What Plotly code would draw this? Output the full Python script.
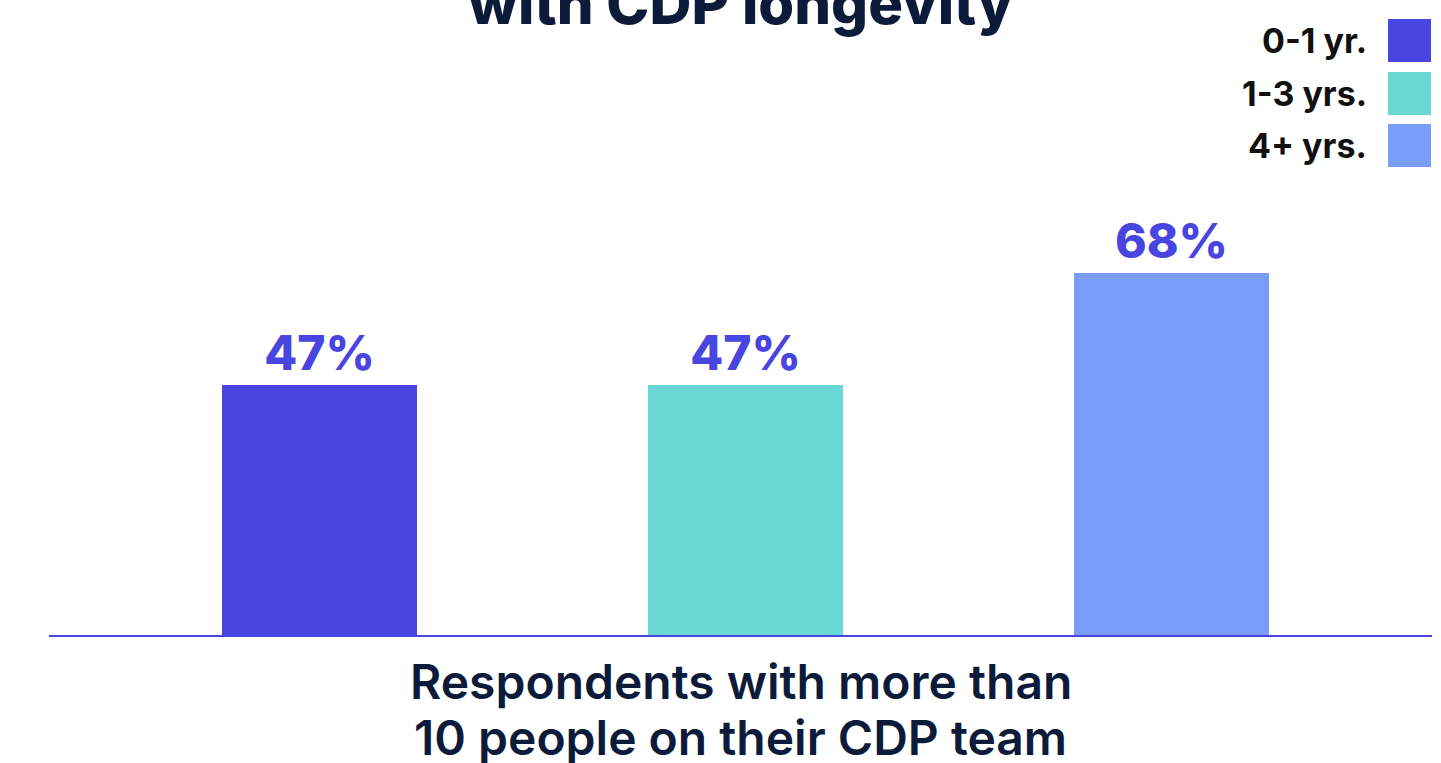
import plotly.graph_objects as go

# Data
categories = ["0-1 yr.", "1-3 yrs.", "4+ yrs."]
shares = [47, 47, 68]
bar_colors = ["#4845E0", "#69D8D4", "#799CF8"]

title_text = "with CDP longevity"
axis_title_lines = ["Respondents with more than", "10 people on their CDP team"]

# Canvas / plot-area geometry (pixels)
W, H = 1441, 763
L, R, T, B = 49, 9, 175, 128
PW, PH = W - L - R, H - T - B
FONT = "Inter, Open Sans, sans-serif"
NAVY = "#0D1B3A"
ACCENT = "#4845E0"


def paper_x(px):
    return (px - L) / PW


def paper_y(py):
    return (H - B - py) / PH


fig = go.Figure(
    go.Bar(
        x=categories,
        y=shares,
        marker=dict(color=bar_colors, line=dict(width=0)),
        width=0.458,
        text=[f"{v}%" for v in shares],
        texttemplate="%{text}",
        textposition="outside",
        textfont=dict(family=FONT, size=48, color=ACCENT, weight=800),
        cliponaxis=False,
        hoverinfo="skip",
    )
)

annotations = [
    dict(
        text=title_text, x=0.5, xref="paper", y=paper_y(40), yref="paper",
        xanchor="center", yanchor="bottom", showarrow=False,
        font=dict(family=FONT, size=58, color=NAVY, weight=800),
    ),
]

# Axis caption, one annotation per line for tighter leading
for line, top in zip(axis_title_lines, [650, 706]):
    annotations.append(dict(
        text=line, x=0.5, xref="paper", y=paper_y(top), yref="paper",
        xanchor="center", yanchor="top", showarrow=False,
        font=dict(family=FONT, size=48, color=NAVY, weight=600),
    ))

shapes = []
# Legend: label on the left, colour square on the right
sq_top = [19, 72, 124]
for name, color, top in zip(categories, bar_colors, sq_top):
    shapes.append(dict(
        type="rect", xref="paper", yref="paper",
        x0=paper_x(1388), x1=paper_x(1431), y0=paper_y(top + 43), y1=paper_y(top),
        fillcolor=color, line=dict(width=0),
    ))
    annotations.append(dict(
        text=name, x=paper_x(1369), xref="paper", y=paper_y(top + 21.5), yref="paper",
        xanchor="right", yanchor="middle", showarrow=False,
        font=dict(family=FONT, size=34, color="#111111", weight=700),
    ))

fig.update_layout(
    width=W, height=H,
    margin=dict(l=L, r=R, t=T, b=B, pad=0),
    paper_bgcolor="white", plot_bgcolor="white",
    showlegend=False,
    annotations=annotations,
    shapes=shapes,
    xaxis=dict(
        type="category", range=[-0.634, 2.612],
        showticklabels=False, ticks="", showgrid=False, zeroline=False,
        showline=True, linecolor=ACCENT, linewidth=2,
    ),
    yaxis=dict(
        range=[0, PH / 5.32], visible=False, showgrid=False, zeroline=False,
    ),
    bargap=0,
)

fig.write_html("out.html")
